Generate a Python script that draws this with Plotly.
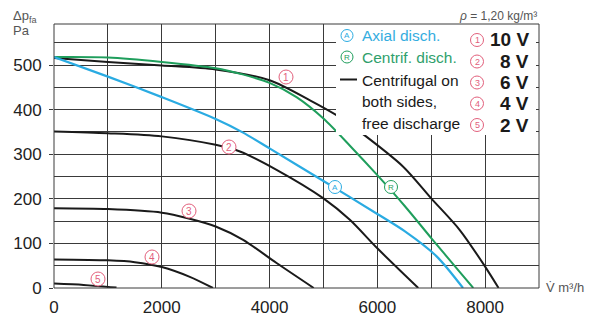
import plotly.graph_objects as go

# ---- data ----
v10_x = [0, 1000, 2000, 3000, 4000, 4750, 5250, 5680, 6480, 7000, 7530, 8000, 8250]
v10_y = [516, 507, 499, 490, 466, 421, 387, 350, 272, 201, 130, 48, 0]
v8_x = [0, 1000, 2000, 3000, 3450, 4130, 5000, 5490, 6000, 6760]
v8_y = [351, 347, 340, 321, 306, 265, 201, 153, 89, 0]
v6_x = [0, 1000, 2000, 2500, 3000, 3510, 4130, 4820]
v6_y = [179, 177, 169, 156, 138, 108, 56, 0]
v4_x = [0, 1000, 1500, 2000, 2520, 2950]
v4_y = [64, 62, 58, 47, 25, 0]
v2_x = [0, 550, 1160]
v2_y = [10, 7, 1]
axial_x = [0, 1000, 2000, 3000, 3500, 4000, 5000, 6000, 6500, 7100, 7590]
axial_y = [518, 474, 428, 379, 349, 313, 240, 166, 128, 71, 0]
centrif_x = [0, 1000, 2000, 3000, 3500, 4000, 4500, 5000, 5500, 6000, 6500, 7000, 7500, 7780]
centrif_y = [518, 517, 507, 493, 479, 460, 428, 380, 318, 253, 185, 112, 40, 0]

x_ticks = [0, 2000, 4000, 6000, 8000]
y_ticks = [0, 100, 200, 300, 400, 500]
voltage_labels = ["10 V", "8 V", "6 V", "4 V", "2 V"]
circled = ["1", "2", "3", "4", "5"]
legend_lines = ["Axial disch.", "Centrif. disch.", "Centrifugal on", "both sides,", "free discharge"]

XMAX, YMAX = 9000, 592
W, H = 595, 316
L, T = 46, 16          # page body adds 8 px offset
PW, PH = 485, 264
R, B = W - L - PW, H - T - PH
SX0, SY1 = 54, 288     # plot left / bottom in screen pixels

def dx(px):
    return (px - SX0) / PW * XMAX

def dy(py):
    return (SY1 - py) / PH * YMAX

def ppx(px):
    return (px - SX0) / PW

def ppy(py):
    return (SY1 - py) / PH

BLUE = "#2aabe2"
GREEN = "#1f9e5c"
PINK = "#e2607c"
BLACK = "#1a1a1a"
GRID = "#3a3a3a"

fig = go.Figure()
for xs, ys in [(v10_x, v10_y), (v8_x, v8_y), (v6_x, v6_y), (v4_x, v4_y), (v2_x, v2_y)]:
    fig.add_trace(go.Scatter(x=xs, y=ys, mode="lines",
                             line=dict(color=BLACK, width=2, shape="spline", smoothing=0.8),
                             hoverinfo="skip", showlegend=False))
fig.add_trace(go.Scatter(x=centrif_x, y=centrif_y, mode="lines",
                         line=dict(color=GREEN, width=2, shape="spline", smoothing=0.8),
                         showlegend=False))
fig.add_trace(go.Scatter(x=axial_x, y=axial_y, mode="lines",
                         line=dict(color=BLUE, width=2.2, shape="spline", smoothing=0.8),
                         showlegend=False))

shapes = []
ann = []

# legend white box
shapes.append(dict(type="rect", xref="x", yref="y", x0=dx(336), x1=dx(536), y0=dy(135), y1=YMAX,
                   fillcolor="white", line=dict(width=0), layer="above"))
# frame
fl = dict(color=GRID, width=1)
for x0, x1, y0, y1 in [(0, 1, 1, 1), (0, 0, 0, 1), (0, 1, 0, 0), (1, 1, 0, 1)]:
    shapes.append(dict(type="line", xref="paper", yref="paper", x0=x0, x1=x1, y0=y0, y1=y1,
                       line=fl, layer="above"))

def circle(px, py, color, txt, size=13, fs=9):
    r = size / 2
    shapes.append(dict(type="circle", xref="x", yref="y", xsizemode="pixel", ysizemode="pixel",
                       xanchor=dx(px), yanchor=dy(py), x0=-r, x1=r, y0=-r, y1=r,
                       fillcolor="white", line=dict(color=color, width=1), layer="above"))
    ann.append(dict(x=dx(px), y=dy(py), xref="x", yref="y", text=txt, showarrow=False,
                    font=dict(size=fs, color=color, family="Liberation Sans, Arial"),
                    xanchor="center", yanchor="middle"))

# curve labels
for (px, py), t in zip([(286, 77), (229, 147), (189, 211), (152, 257), (98, 279)], circled):
    circle(px, py, PINK, t, size=14, fs=10)
circle(335, 187, BLUE, "A", size=13, fs=8)
circle(391, 187, GREEN, "R", size=13, fs=8)

# legend
circle(347, 35.5, BLUE, "A", size=12, fs=8)
circle(347, 57, GREEN, "R", size=12, fs=8)
shapes.append(dict(type="line", xref="paper", yref="paper", x0=ppx(340), x1=ppx(357), y0=ppy(79.5), y1=ppy(79.5),
                   line=dict(color=BLACK, width=2), layer="above"))
leg_y = [36, 57.5, 80, 102, 123.5]
leg_col = ["#35ade0", "#2f9f6c", BLACK, BLACK, BLACK]
for t, py, c in zip(legend_lines, leg_y, leg_col):
    ann.append(dict(x=ppx(360), y=ppy(py), xref="paper", yref="paper", text=t, showarrow=False,
                    font=dict(size=15.5, color=c, family="Liberation Sans, Arial"),
                    xanchor="left", yanchor="middle"))
vol_y = [40, 61.5, 82.5, 103.5, 125]
for t, c, py in zip(voltage_labels, circled, vol_y):
    circle(477, py, PINK, c, size=13, fs=9)
    ann.append(dict(x=ppx(531), y=ppy(py), xref="paper", yref="paper", text=t, showarrow=False,
                    font=dict(size=19, color=BLACK, family="Liberation Sans, Arial", weight="bold"),
                    xanchor="right", yanchor="middle"))

# other texts
ann.append(dict(x=ppx(539), y=ppy(16), xref="paper", yref="paper", text="<i>ρ</i> = 1,20 kg/m³",
                showarrow=False, font=dict(size=12, color="#555555", family="Liberation Sans, Arial"),
                xanchor="right", yanchor="middle"))
ann.append(dict(x=ppx(11), y=ppy(17), xref="paper", yref="paper", text="Δp<sub>fa</sub>",
                showarrow=False, font=dict(size=13, color="#555555", family="Liberation Sans, Arial"),
                xanchor="left", yanchor="middle"))
ann.append(dict(x=ppx(11), y=ppy(31), xref="paper", yref="paper", text="Pa",
                showarrow=False, font=dict(size=13, color="#555555", family="Liberation Sans, Arial"),
                xanchor="left", yanchor="middle"))
ann.append(dict(x=ppx(544), y=ppy(287), xref="paper", yref="paper", text="V̇ m³/h",
                showarrow=False, font=dict(size=13, color="#555555", family="Liberation Sans, Arial"),
                xanchor="left", yanchor="middle"))

fig.update_layout(
    width=W, height=H, margin=dict(l=L, r=R, t=T, b=B, autoexpand=False),
    paper_bgcolor="white", plot_bgcolor="white",
    shapes=shapes, annotations=ann, showlegend=False,
    font=dict(family="Liberation Sans, Arial", color="#222222"),
)
fig.update_xaxes(range=[0, XMAX], tickvals=x_ticks, ticktext=[str(v) for v in x_ticks],
                 automargin=False,
                 showgrid=True, gridcolor=GRID, gridwidth=1, zeroline=False, showline=False,
                 ticks="", tickfont=dict(size=17, color="#222222"), ticklabelstandoff=7,
                 minor=dict(dtick=1000, tick0=0, showgrid=True, gridcolor=GRID, gridwidth=1))
fig.update_yaxes(range=[0, YMAX], tickvals=y_ticks, ticktext=[str(v) for v in y_ticks],
                 automargin=False,
                 showgrid=True, gridcolor=GRID, gridwidth=1, zeroline=False, showline=False,
                 ticks="outside", ticklen=4, tickcolor=GRID, tickfont=dict(size=17, color="#222222"),
                 ticklabelstandoff=4,
                 minor=dict(dtick=50, tick0=0, showgrid=True, gridcolor=GRID, gridwidth=1))

fig.write_html("out.html")
